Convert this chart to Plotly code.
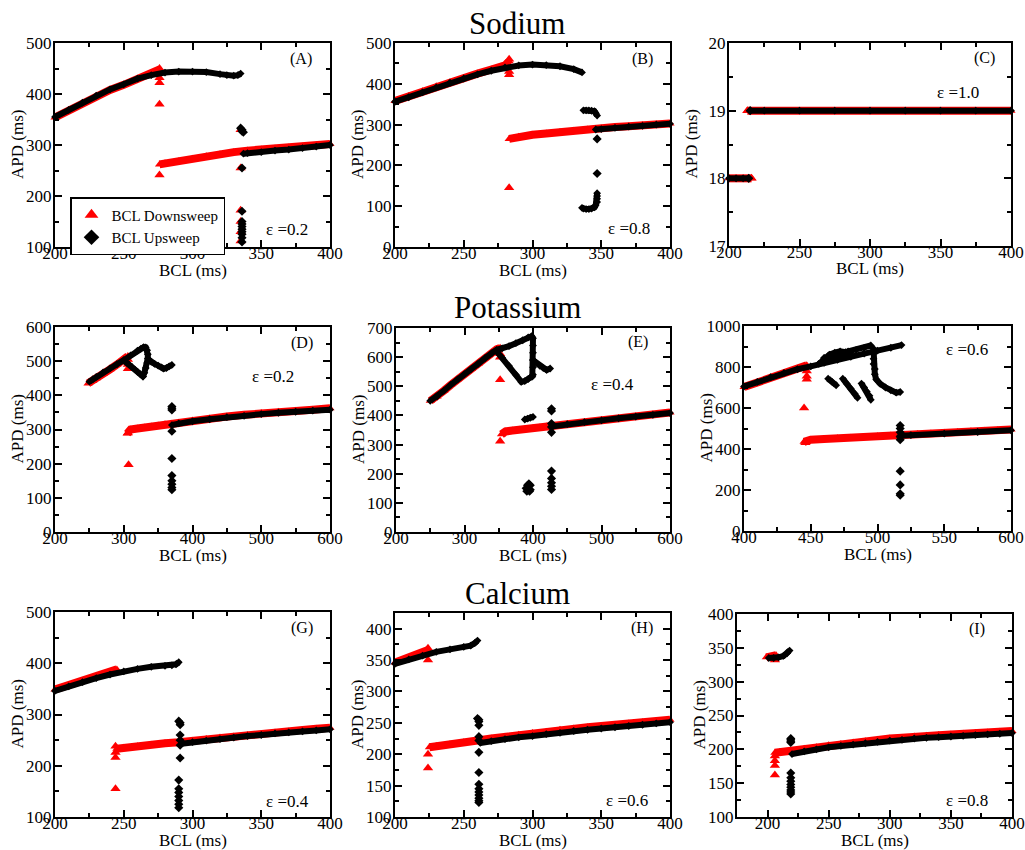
import plotly.graph_objects as go

# ---------------- DATA ----------------
# Panel A  (Sodium, eps=0.2)
A_down_band_x = [200, 210, 220, 230, 240, 250, 260, 270, 276, None, 276, 280, 290, 300, 310, 320, 330, 340, 350, 360, 370, 380, 390, 400]
A_down_band_y = [354, 368, 382, 396, 408, 418, 430, 440, 448, None, 262, 264, 268, 273, 278, 282, 286, 289, 291, 293, 295, 297, 299, 302]
A_down_dot_x = [276, 276, 276, 276, 276, 335, 335, 335, 335, 335, 335]
A_down_dot_y = [450, 432, 422, 380, 241, 330, 255, 172, 150, 130, 112]
A_up_band_x = [200, 210, 220, 230, 240, 250, 260, 270, 280, 290, 300, 310, 320, 325, 330, 333, 335, None, 337, 340, 350, 360, 370, 380, 390, 400]
A_up_band_y = [355, 369, 383, 397, 409, 419, 430, 437, 442, 444, 444, 443, 439, 437, 436, 437, 440, None, 283, 284, 286, 289, 291, 294, 297, 300]
A_up_dot_x = [335, 336, 336, 337, 336, 336, 336, 336, 336, 336, 336, 336, 336, 336]
A_up_dot_y = [333, 330, 327, 325, 255, 170, 150, 145, 140, 135, 130, 125, 118, 110]

# Panel B  (Sodium, eps=0.8)
B_down_band_x = [200, 210, 220, 230, 240, 250, 260, 270, 280, 283, None, 283, 290, 300, 310, 320, 330, 340, 350, 360, 370, 380, 390, 400]
B_down_band_y = [358, 370, 382, 394, 404, 414, 425, 435, 445, 455, None, 265, 270, 275, 278, 282, 285, 288, 291, 294, 296, 299, 301, 303]
B_down_dot_x = [283, 283, 283, 283, 283]
B_down_dot_y = [460, 445, 430, 422, 145]
B_up_band_x = [200, 210, 220, 230, 240, 250, 260, 270, 280, 290, 300, 310, 320, 330, 336, None,
               337, 339, 341, 343, 345, 346, 347, None,
               347, 347, 347, 347, 346, 345, 343, 341, 339, 337, 336, None,
               346, 350, 360, 370, 380, 390, 400]
B_up_band_y = [356, 367, 379, 391, 403, 413, 423, 432, 440, 445, 447, 446, 443, 436, 428, None,
               335, 335, 335, 334, 333, 328, 322, None,
               132, 125, 118, 110, 103, 97, 94, 93, 93, 94, 96, None,
               288, 289, 292, 295, 297, 300, 302]
B_up_dot_x = [347, 347]
B_up_dot_y = [265, 180]

# Panel C  (Sodium, eps=1.0)
C_down_band_x = [200, 205, 210, 216, None, 213, 225, 250, 275, 300, 325, 350, 375, 400]
C_down_band_y = [18, 18, 18, 18, None, 19, 19, 19, 19, 19, 19, 19, 19, 19]
C_down_dot_x = [216, 213]
C_down_dot_y = [18, 19]
C_up_band_x = [200, 205, 210, 214, None, 215, 225, 250, 275, 300, 325, 350, 375, 400]
C_up_band_y = [18, 18, 18, 18, None, 19, 19, 19, 19, 19, 19, 19, 19, 19]
C_up_dot_x = [214, 215]
C_up_dot_y = [18, 19]

# Panel D  (Potassium, eps=0.2)
D_down_band_x = [248, 255, 260, 270, 280, 290, 300, 306, None, 305, 310, 320, 330, 340, 350, 360, 370, 380, 400, 425, 450, 475, 500, 525, 550, 575, 600]
D_down_band_y = [435, 443, 450, 463, 476, 490, 503, 515, None, 288, 300, 303, 306, 309, 312, 315, 317, 320, 326, 332, 338, 343, 348, 352, 355, 358, 362]
D_down_dot_x = [306, 306, 306, 306, 307]
D_down_dot_y = [505, 490, 478, 290, 197]
D_up_band_x = [250, 255, 260, 270, 280, 290, 300, 310, 320, 325, 329, 332, 334, 335, 335, 334, 332, 330, 328, None,
               328, 324, 320, 316, 312, 308, 304, 300, None,
               336, 340, 345, 350, 355, 358, 362, 366, 370, None,
               370, 380, 400, 425, 450, 475, 500, 525, 550, 575, 600]
D_up_band_y = [440, 447, 454, 467, 479, 491, 503, 517, 531, 537, 541, 540, 532, 520, 508, 495, 480, 466, 455, None,
               455, 462, 469, 476, 483, 490, 496, 502, None,
               505, 498, 492, 487, 482, 478, 480, 485, 489, None,
               313, 318, 324, 330, 336, 340, 345, 349, 352, 355, 358]
D_up_dot_x = [370, 370, 370, 370, 370, 370, 370, 370, 370, 370]
D_up_dot_y = [367, 362, 357, 295, 215, 165, 150, 140, 130, 124]

# Panel E  (Potassium, eps=0.4)
E_down_band_x = [250, 260, 270, 280, 290, 300, 310, 320, 330, 340, 347, 352, None, 354, 360, 370, 380, 390, 400, 410, 420, 430, 450, 475, 500, 525, 550, 575, 600]
E_down_band_y = [450, 465, 485, 505, 524, 542, 560, 577, 597, 614, 627, 632, None, 335, 345, 348, 351, 353, 356, 359, 362, 365, 370, 377, 384, 390, 397, 404, 410]
E_down_dot_x = [352, 352, 352, 352]
E_down_dot_y = [612, 600, 522, 311]
E_up_band_x = [250, 260, 270, 280, 290, 300, 310, 320, 330, 340, 347, 355, 365, 375, 385, 393, 398, 400, 400, 400, 400, 400, 400, 399, None,
               347, 355, 365, 375, 383, 388, 393, 398, None,
               400, 405, 410, 415, 420, 425, None,
               388, 392, 396, 400, None,
               427, 450, 475, 500, 525, 550, 575, 600]
E_up_band_y = [450, 465, 485, 505, 524, 542, 560, 577, 597, 614, 625, 630, 638, 648, 658, 668, 672, 665, 640, 615, 590, 565, 540, 533, None,
               620, 598, 570, 540, 515, 518, 525, 533, None,
               590, 580, 570, 562, 556, 561, None,
               386, 389, 392, 395, None,
               362, 370, 377, 383, 390, 396, 402, 408]
E_up_dot_x = [427, 427, 427, 427, 427, 427, 427, 427, 427, 427, 390, 392, 394, 396, 393, 395, 391, 396]
E_up_dot_y = [423, 415, 372, 360, 342, 209, 184, 169, 157, 146, 150, 160, 165, 160, 145, 140, 140, 145]

# Panel F  (Potassium, eps=0.6)
F_down_band_x = [400, 410, 420, 430, 440, 447, None, 445, 450, 460, 470, 480, 490, 500, 510, 520, 530, 540, 550, 560, 570, 580, 590, 600]
F_down_band_y = [702, 725, 748, 771, 792, 808, None, 435, 445, 449, 452, 455, 459, 462, 466, 470, 473, 476, 479, 483, 486, 489, 492, 495]
F_down_dot_x = [447, 447, 447, 445, 446]
F_down_dot_y = [780, 755, 740, 600, 430]
F_up_band_x = [400, 410, 420, 430, 440, 450, 460, 470, 480, 490, 500, 510, 518, None,
               456, 460, 464, 468, 472, 476, 480, 476, 470, 464, 460, 466, 472, 478, 484, 490, 495, None,
               497, 497, 497, 497, 498, 498, 499, 502, 506, 510, 514, 517, None,
               463, 466, 469, None,
               474, 477, 480, 483, 485, None,
               488, 490, 492, 494, 495, None,
               517, 525, 550, 575, 600]
F_up_band_y = [705, 727, 750, 771, 789, 803, 820, 835, 850, 865, 880, 894, 907, None,
               815, 840, 860, 870, 876, 872, 862, 848, 838, 832, 845, 858, 864, 876, 884, 893, 905, None,
               890, 865, 840, 815, 790, 765, 740, 718, 700, 686, 675, 678, None,
               743, 727, 711, None,
               743, 718, 694, 670, 650, None,
               719, 700, 680, 660, 640, None,
               465, 468, 475, 483, 491]
F_up_dot_x = [517, 517, 517, 517, 517, 517, 517, 517, 517]
F_up_dot_y = [515, 500, 482, 460, 445, 292, 225, 182, 175]

# Panel G  (Calcium, eps=0.4)
G_down_band_x = [200, 210, 220, 230, 240, 245, None, 245, 250, 260, 270, 280, 290, 300, 310, 320, 330, 340, 350, 360, 370, 380, 390, 400]
G_down_band_y = [349, 357, 365, 374, 383, 388, None, 233, 235, 238, 241, 244, 246, 249, 252, 255, 257, 260, 262, 265, 267, 270, 272, 274]
G_down_dot_x = [244, 244, 244, 244]
G_down_dot_y = [238, 226, 216, 155]
G_up_band_x = [200, 210, 220, 230, 240, 250, 260, 270, 280, 285, 288, 290, None, 292, 300, 310, 320, 330, 340, 350, 360, 370, 380, 390, 400]
G_up_band_y = [346, 355, 363, 371, 378, 384, 389, 393, 395, 396, 398, 402, None, 243, 246, 249, 252, 255, 258, 260, 263, 265, 267, 269, 271]
G_up_dot_x = [290, 291, 291, 291, 291, 291, 291, 290, 290, 290, 290, 290, 290, 290]
G_up_dot_y = [287, 284, 280, 260, 250, 240, 215, 172, 155, 148, 140, 132, 125, 118]

# Panel H  (Calcium, eps=0.6)
H_down_band_x = [200, 210, 220, 224, None, 225, 230, 240, 250, 260, 270, 280, 290, 300, 310, 320, 330, 340, 350, 360, 370, 380, 390, 400]
H_down_band_y = [346, 353, 360, 366, None, 211, 213, 216, 219, 222, 225, 228, 231, 234, 236, 239, 241, 243, 245, 247, 249, 251, 253, 255]
H_down_dot_x = [224, 224, 224, 224]
H_down_dot_y = [369, 350, 200, 178]
H_up_band_x = [200, 210, 220, 230, 240, 250, 255, 258, 260, None, 262, 270, 280, 290, 300, 310, 320, 330, 340, 350, 360, 370, 380, 390, 400]
H_up_band_y = [344, 351, 357, 363, 367, 371, 373, 377, 381, None, 218, 221, 224, 227, 229, 232, 234, 237, 239, 241, 243, 245, 247, 249, 251]
H_up_dot_x = [260, 261, 261, 261, 261, 261, 261, 261, 261, 261, 261, 261, 261, 261, 261]
H_up_dot_y = [257, 255, 252, 246, 228, 222, 203, 171, 152, 145, 140, 135, 130, 126, 123]

# Panel I  (Calcium, eps=0.8)
I_down_band_x = [199, 203, 207, None, 206, 210, 220, 230, 240, 250, 260, 270, 280, 290, 300, 310, 320, 330, 340, 350, 360, 370, 380, 390, 400]
I_down_band_y = [336, 337, 339, None, 195, 196, 198, 201, 203, 206, 208, 210, 212, 214, 216, 217, 219, 220, 221, 222, 223, 224, 225, 226, 227]
I_down_dot_x = [206, 206, 206, 206, 206]
I_down_dot_y = [332, 190, 183, 176, 162]
I_up_band_x = [201, 205, 209, 213, 216, 218, None, 220, 230, 240, 250, 260, 270, 280, 290, 300, 310, 320, 330, 340, 350, 360, 370, 380, 390, 400]
I_up_band_y = [335, 335, 336, 338, 342, 346, None, 193, 197, 200, 203, 205, 207, 209, 211, 213, 214, 216, 217, 218, 219, 220, 221, 222, 223, 224]
I_up_dot_x = [219, 219, 219, 219, 219, 219, 219, 219, 219, 219, 219, 219]
I_up_dot_y = [216, 214, 212, 210, 165, 158, 153, 148, 144, 140, 137, 134]

panel_labels = ["(A)", "(B)", "(C)", "(D)", "(E)", "", "(G)", "(H)", "(I)"]
eps_labels = ["ε =0.2", "ε =0.8", "ε =1.0", "ε =0.2", "ε =0.4", "ε =0.6", "ε =0.4", "ε =0.6", "ε =0.8"]
row_titles = ["Sodium", "Potassium", "Calcium"]
x_title = "BCL (ms)"
y_title = "APD (ms)"
legend_names = ["BCL Downsweep", "BCL Upsweep"]

# ---------------- LAYOUT ----------------
W, H = 1025, 850
FONT = "Liberation Serif, Times New Roman, serif"


def fx(x):
    return x / W


def fy(y):
    return 1 - y / H


panels = [
    dict(d=(A_down_band_x, A_down_band_y, A_down_dot_x, A_down_dot_y, A_up_band_x, A_up_band_y, A_up_dot_x, A_up_dot_y),
         px=(55, 330), py=(43, 247), xr=[200, 400], xdt=50, xm=25, yr=[100, 500], ydt=100, ym=50,
         lab=(301, 59), eps=(287, 229)),
    dict(d=(B_down_band_x, B_down_band_y, B_down_dot_x, B_down_dot_y, B_up_band_x, B_up_band_y, B_up_dot_x, B_up_dot_y),
         px=(395, 670), py=(43, 247), xr=[200, 400], xdt=50, xm=25, yr=[0, 500], ydt=100, ym=50,
         lab=(642, 59), eps=(629, 228)),
    dict(d=(C_down_band_x, C_down_band_y, C_down_dot_x, C_down_dot_y, C_up_band_x, C_up_band_y, C_up_dot_x, C_up_dot_y),
         px=(729, 1011), py=(43, 246), xr=[200, 400], xdt=50, xm=25, yr=[17, 20], ydt=1, ym=0.5,
         lab=(984, 58), eps=(958, 92)),
    dict(d=(D_down_band_x, D_down_band_y, D_down_dot_x, D_down_dot_y, D_up_band_x, D_up_band_y, D_up_dot_x, D_up_dot_y),
         px=(55, 330), py=(327, 532), xr=[200, 600], xdt=100, xm=50, yr=[0, 600], ydt=100, ym=50,
         lab=(302, 343), eps=(273, 376)),
    dict(d=(E_down_band_x, E_down_band_y, E_down_dot_x, E_down_dot_y, E_up_band_x, E_up_band_y, E_up_dot_x, E_up_dot_y),
         px=(396, 670), py=(328, 532), xr=[200, 600], xdt=100, xm=50, yr=[0, 700], ydt=100, ym=50,
         lab=(638, 342), eps=(612, 384)),
    dict(d=(F_down_band_x, F_down_band_y, F_down_dot_x, F_down_dot_y, F_up_band_x, F_up_band_y, F_up_dot_x, F_up_dot_y),
         px=(744, 1011), py=(326, 531), xr=[400, 600], xdt=50, xm=25, yr=[0, 1000], ydt=200, ym=100,
         lab=(980, 345), eps=(967, 349)),
    dict(d=(G_down_band_x, G_down_band_y, G_down_dot_x, G_down_dot_y, G_up_band_x, G_up_band_y, G_up_dot_x, G_up_dot_y),
         px=(55, 330), py=(612, 817), xr=[200, 400], xdt=50, xm=25, yr=[100, 500], ydt=100, ym=50,
         lab=(302, 628), eps=(287, 801)),
    dict(d=(H_down_band_x, H_down_band_y, H_down_dot_x, H_down_dot_y, H_up_band_x, H_up_band_y, H_up_dot_x, H_up_dot_y),
         px=(395, 670), py=(613, 817), xr=[200, 400], xdt=50, xm=25, yr=[100, 425], ydt=50, ym=25,
         lab=(642, 628), eps=(627, 800)),
    dict(d=(I_down_band_x, I_down_band_y, I_down_dot_x, I_down_dot_y, I_up_band_x, I_up_band_y, I_up_dot_x, I_up_dot_y),
         px=(737, 1012), py=(614, 817), xr=[175, 400], xdt=50, xm=25, yr=[100, 400], ydt=50, ym=25,
         lab=(977, 629), eps=(967, 800)),
]

RED = "#ff0000"
BLACK = "#000000"

fig = go.Figure()
layout = dict(
    template="none",
    width=W, height=H,
    margin=dict(l=0, r=0, t=0, b=0, pad=0),
    paper_bgcolor="white", plot_bgcolor="white",
    font=dict(family=FONT, size=17, color="black"),
    showlegend=True,
    legend=dict(x=fx(70), y=fy(197), xanchor="left", yanchor="top",
                bordercolor="black", borderwidth=1.5, bgcolor="white",
                font=dict(family=FONT, size=15, color="black"),
                tracegroupgap=0, itemsizing="constant"),
)
annotations = []

for i, p in enumerate(panels):
    n = "" if i == 0 else str(i + 1)
    xa, ya = "x" + n, "y" + n
    dbx, dby, ddx, ddy, ubx, uby, udx, udy = p["d"]
    fig.add_trace(go.Scatter(x=dbx, y=dby, xaxis=xa, yaxis=ya, mode="lines+markers",
                             line=dict(color=RED, width=8),
                             marker=dict(symbol="triangle-up", size=8, color=RED),
                             cliponaxis=False, showlegend=False, hoverinfo="skip"))
    fig.add_trace(go.Scatter(x=ddx, y=ddy, xaxis=xa, yaxis=ya, mode="markers",
                             marker=dict(symbol="triangle-up", size=9, color=RED),
                             cliponaxis=False, name=legend_names[0], showlegend=(i == 0)))
    fig.add_trace(go.Scatter(x=ubx, y=uby, xaxis=xa, yaxis=ya, mode="lines+markers",
                             line=dict(color=BLACK, width=6),
                             marker=dict(symbol="diamond", size=6, color=BLACK),
                             cliponaxis=False, showlegend=False, hoverinfo="skip"))
    fig.add_trace(go.Scatter(x=udx, y=udy, xaxis=xa, yaxis=ya, mode="markers",
                             marker=dict(symbol="diamond", size=7, color=BLACK),
                             cliponaxis=False, name=legend_names[1], showlegend=(i == 0)))

    common = dict(showline=True, linecolor="black", linewidth=2, mirror="allticks",
                  ticks="inside", ticklen=7, tickwidth=1.5, tickcolor="black",
                  showgrid=False, zeroline=False, fixedrange=True, automargin=False,
                  tickfont=dict(family=FONT, size=17, color="black"))
    layout["xaxis" + n] = dict(common, domain=[fx(p["px"][0]), fx(p["px"][1])], range=p["xr"],
                               dtick=p["xdt"], tick0=0, anchor=ya, ticklabelstandoff=-10,
                               minor=dict(ticks="inside", ticklen=4, tickwidth=1.5, tickcolor="black",
                                          dtick=p["xm"], tick0=0, showgrid=False))
    layout["yaxis" + n] = dict(common, domain=[fy(p["py"][1]), fy(p["py"][0])], range=p["yr"],
                               dtick=p["ydt"], tick0=0, anchor=xa, ticklabelstandoff=-2,
                               minor=dict(ticks="inside", ticklen=4, tickwidth=1.5, tickcolor="black",
                                          dtick=p["ym"], tick0=0, showgrid=False))

    cx = (p["px"][0] + p["px"][1]) / 2
    annotations.append(dict(text=x_title, x=fx(cx), y=fy(p["py"][1] + 23), xref="paper", yref="paper",
                            xanchor="center", yanchor="middle", showarrow=False,
                            font=dict(family=FONT, size=17, color="black")))
    cy = (p["py"][0] + p["py"][1]) / 2
    annotations.append(dict(text=y_title, x=fx(p["px"][0] - 38), y=fy(cy), xref="paper", yref="paper",
                            xanchor="center", yanchor="middle", showarrow=False, textangle=-90,
                            font=dict(family=FONT, size=17, color="black")))
    if panel_labels[i]:
        annotations.append(dict(text=panel_labels[i], x=fx(p["lab"][0]), y=fy(p["lab"][1]), xref="paper",
                                yref="paper", xanchor="center", yanchor="middle", showarrow=False,
                                font=dict(family=FONT, size=16, color="black")))
    annotations.append(dict(text=eps_labels[i], x=fx(p["eps"][0]), y=fy(p["eps"][1]), xref="paper",
                            yref="paper", xanchor="center", yanchor="middle", showarrow=False,
                            font=dict(family=FONT, size=17, color="black")))

for t, ty in zip(row_titles, [23, 308, 593]):
    annotations.append(dict(text=t, x=fx(517), y=fy(ty), xref="paper", yref="paper",
                            xanchor="center", yanchor="middle", showarrow=False,
                            font=dict(family=FONT, size=31, color="black")))

layout["annotations"] = annotations
fig.update_layout(**layout)
fig.write_html("out.html")
